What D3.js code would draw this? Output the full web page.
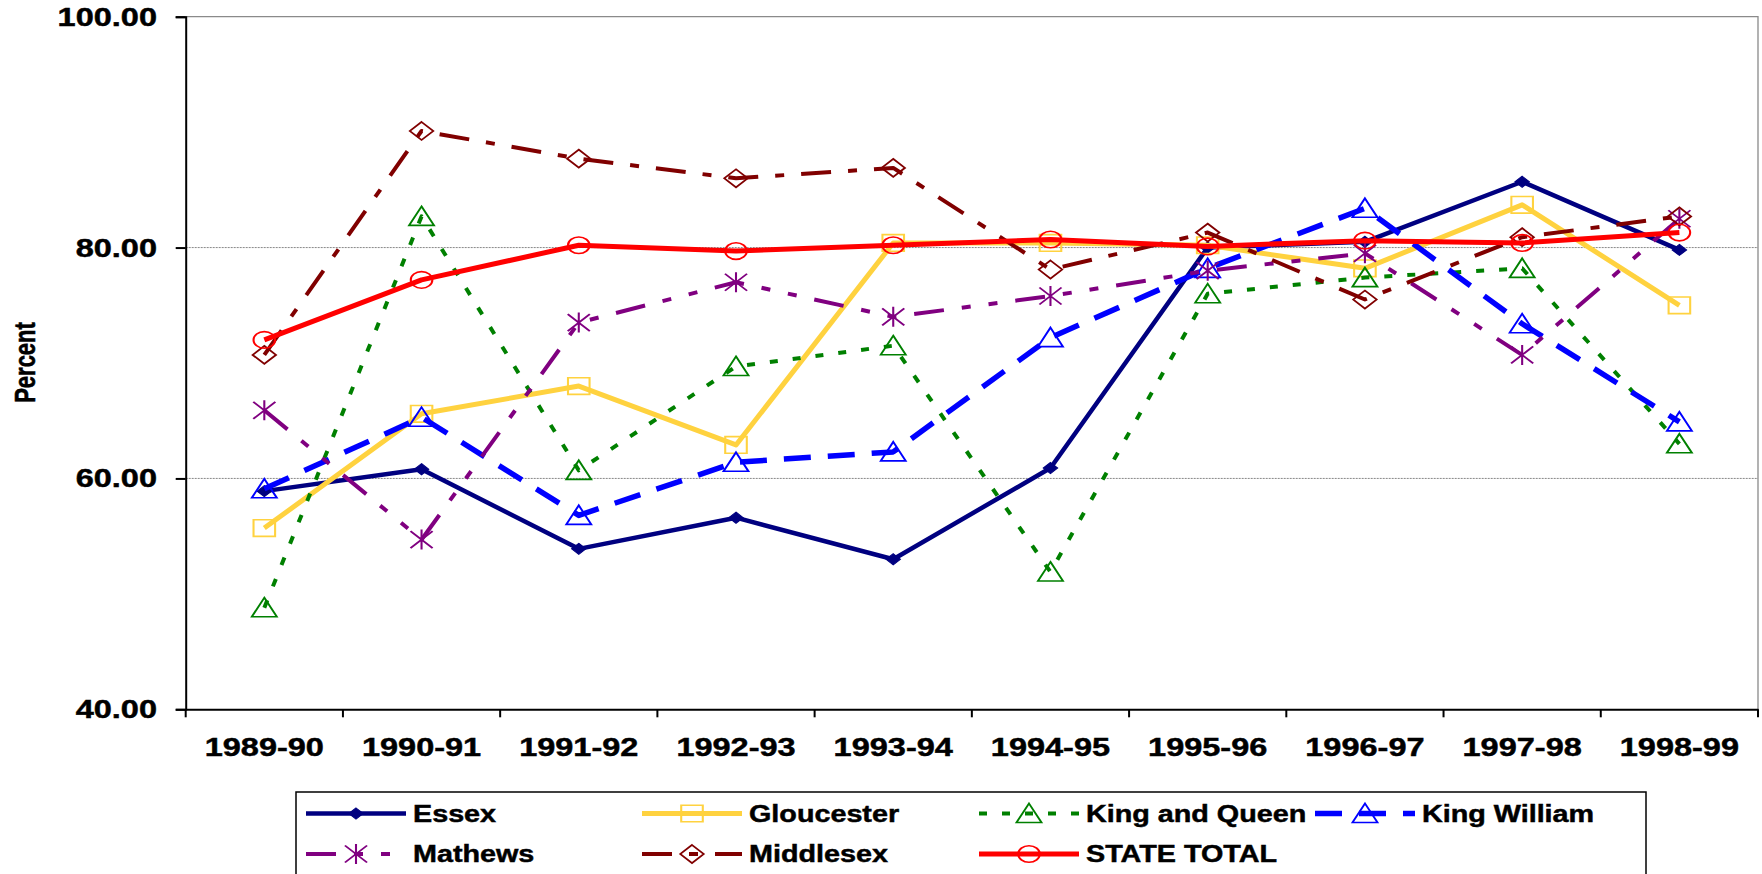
<!DOCTYPE html>
<html><head><meta charset="utf-8">
<script src="https://cdn.jsdelivr.net/npm/d3@7/dist/d3.min.js"></script>
<style>
html,body{margin:0;padding:0;background:#fff;overflow:hidden}
svg{display:block}
text{font-family:"Liberation Sans",Arial,sans-serif;font-weight:bold;fill:#000;stroke:#000;stroke-width:0.45px}
</style></head><body>
<svg id="chart" width="1762" height="874"></svg>
<script>
// ---- data ----
const categories = ["1989-90","1990-91","1991-92","1992-93","1993-94","1994-95","1995-96","1996-97","1997-98","1998-99"];
const essex        = [58.9, 60.8, 53.9, 56.6, 53.0, 60.9, 80.0, 80.5, 85.7, 79.8];
const gloucester   = [55.7, 65.6, 68.0, 62.9, 80.4, 80.4, 80.2, 78.2, 83.7, 75.0];
const kingAndQueen = [48.8, 82.7, 60.7, 69.7, 71.5, 51.9, 76.0, 77.4, 78.2, 63.0];
const kingWilliam  = [59.1, 65.3, 56.8, 61.4, 62.3, 72.2, 78.2, 83.4, 73.4, 64.9];
const mathews      = [65.9, 54.7, 73.5, 77.0, 74.0, 75.8, 78.0, 79.5, 70.7, 82.5];
const middlesex    = [70.7, 90.1, 87.7, 86.0, 86.9, 78.1, 81.3, 75.5, 80.9, 82.7];
const stateTotal   = [72.0, 77.2, 80.2, 79.7, 80.2, 80.7, 80.1, 80.6, 80.4, 81.3];
const seriesNames  = ["Essex","Gloucester","King and Queen","King William","Mathews","Middlesex","STATE TOTAL"];
const yTickValues  = [40, 60, 80, 100];
const yAxisTitle   = "Percent";

(function () {
// ---- styles ----
const seriesValues = [essex, gloucester, kingAndQueen, kingWilliam, mathews, middlesex, stateTotal];
const styles = [
  {color:"#000080", dash:null,            width:4.5, marker:"diamondFilled"},
  {color:"#FFD23F", dash:null,            width:5,   marker:"square"},
  {color:"#008000", dash:"8,15",          width:4,   marker:"triangle"},
  {color:"#0000FF", dash:"27,17",         width:5.5, marker:"triangle"},
  {color:"#800080", dash:"30,18,9,18,9,18", width:4, marker:"asterisk"},
  {color:"#800000", dash:"30,17,9,17",    width:4,   marker:"diamond"},
  {color:"#FF0000", dash:null,            width:5,   marker:"circle"}
];
const markerPaths = {
  diamondFilled: "M0,-5.5L5.5,0L0,5.5L-5.5,0Z",
  square: "M-8.3,-8.3H8.3V8.3H-8.3Z",
  triangle: "M0,-10L9.6,9L-9.6,9Z",
  asterisk: "M0,-10V10M-8.5,-8.5L8.5,8.5M-8.5,8.5L8.5,-8.5",
  diamond: "M0,-9L9,0L0,9L-9,0Z",
  circle: "M-8.3,0A8.3,8.3 0 1,0 8.3,0A8.3,8.3 0 1,0 -8.3,0Z"
};
const SX = 1.3;

const svg = d3.select("#chart");
const pLeft = 185.7, pRight = 1758, pTop = 16.7, pBottom = 709.3;

const x = d3.scaleBand().domain(categories).range([pLeft, pRight]).padding(0);
const y = d3.scaleLinear().domain([40, 100]).range([pBottom, pTop]);
const cx = c => x(c) + x.bandwidth() / 2;

// gridlines
svg.append("g").selectAll("line").data(yTickValues.filter(v => v > 40 && v < 100)).join("line")
  .attr("x1", pLeft).attr("x2", pRight).attr("y1", d => y(d)).attr("y2", d => y(d))
  .attr("stroke", "#888").attr("stroke-width", 1).attr("stroke-dasharray", "2,1");
// plot border (top & right)
svg.append("path").attr("d", `M${pLeft},${y(100)}H${pRight}V${pBottom}`)
  .attr("fill", "none").attr("stroke", "#8a8a8a").attr("stroke-width", 1.3);

// y axis
const yAxis = d3.axisLeft(y).tickValues(yTickValues).tickSize(10).tickFormat(d => "");
const gy = svg.append("g").attr("transform", `translate(${pLeft},0)`).call(yAxis);
gy.select(".domain").attr("stroke", "#000").attr("stroke-width", 2);
gy.selectAll(".tick line").attr("stroke", "#000").attr("stroke-width", 2);
svg.append("g").selectAll("text").data(yTickValues).join("text")
  .attr("transform", d => `translate(157,${y(d) + 9}) scale(${SX},1)`)
  .attr("text-anchor", "end").attr("font-size", 25)
  .text(d => d3.format(".2f")(d));

// x axis
const xAxis = d3.axisBottom(x).tickSize(0).tickFormat(() => "");
const gx = svg.append("g").attr("transform", `translate(0,${pBottom})`).call(xAxis);
gx.select(".domain").attr("stroke", "#000").attr("stroke-width", 2);
gx.selectAll(".tick").remove();
const boundaries = categories.map(c => x(c)).concat([pRight]);
svg.append("g").selectAll("line").data(boundaries).join("line")
  .attr("x1", d => d).attr("x2", d => d).attr("y1", pBottom).attr("y2", pBottom + 8)
  .attr("stroke", "#000").attr("stroke-width", 2);
svg.append("g").selectAll("text").data(categories).join("text")
  .attr("transform", d => `translate(${cx(d)},756) scale(${SX},1)`)
  .attr("text-anchor", "middle").attr("font-size", 25)
  .text(d => d);

// y title
svg.append("text")
  .attr("transform", "translate(35,362.5) rotate(-90) scale(1,1.3)")
  .attr("text-anchor", "middle").attr("font-size", 22)
  .text(yAxisTitle);

// series
const line = d3.line().x((d, i) => cx(categories[i])).y(d => y(d));
const gs = svg.append("g");
seriesValues.forEach((vals, si) => {
  const st = styles[si];
  const g = gs.append("g");
  g.append("path").datum(vals).attr("d", line)
    .attr("fill", "none").attr("stroke", st.color).attr("stroke-width", st.width)
    .attr("stroke-dasharray", st.dash).attr("stroke-linejoin", "round");
  g.selectAll("path.m").data(vals).join("path").attr("class", "m")
    .attr("transform", (d, i) => `translate(${cx(categories[i])},${y(d)}) scale(${SX},1)`)
    .attr("d", markerPaths[st.marker])
    .attr("fill", st.marker === "diamondFilled" ? st.color : "none")
    .attr("stroke", st.color).attr("stroke-width", st.marker === "diamondFilled" ? 1 : 1.6);
});

// legend
const lg = svg.append("g");
lg.append("rect").attr("x", 296).attr("y", 792).attr("width", 1350).attr("height", 110)
  .attr("fill", "#fff").attr("stroke", "#000").attr("stroke-width", 1.5);
const colX = [306, 642, 979, 1315];
const rowY = [813.5, 854];
seriesNames.forEach((name, i) => {
  const st = styles[i];
  const col = i < 4 ? i : i - 4;
  const row = i < 4 ? 0 : 1;
  const x0 = colX[col], yy = rowY[row];
  const g = lg.append("g");
  g.append("line").attr("x1", x0).attr("x2", x0 + 100).attr("y1", yy).attr("y2", yy)
    .attr("stroke", st.color).attr("stroke-width", st.width)
    .attr("stroke-dasharray", st.dash);
  g.append("path").attr("transform", `translate(${x0 + 50},${yy}) scale(${SX},1)`)
    .attr("d", markerPaths[st.marker])
    .attr("fill", st.marker === "diamondFilled" ? st.color : "none")
    .attr("stroke", st.color).attr("stroke-width", st.marker === "diamondFilled" ? 1 : 1.6);
  g.append("text").attr("transform", `translate(${x0 + 107},${yy + 8.3}) scale(1.25,1)`)
    .attr("font-size", 23).text(name);
});
})();
</script>
</body></html>
